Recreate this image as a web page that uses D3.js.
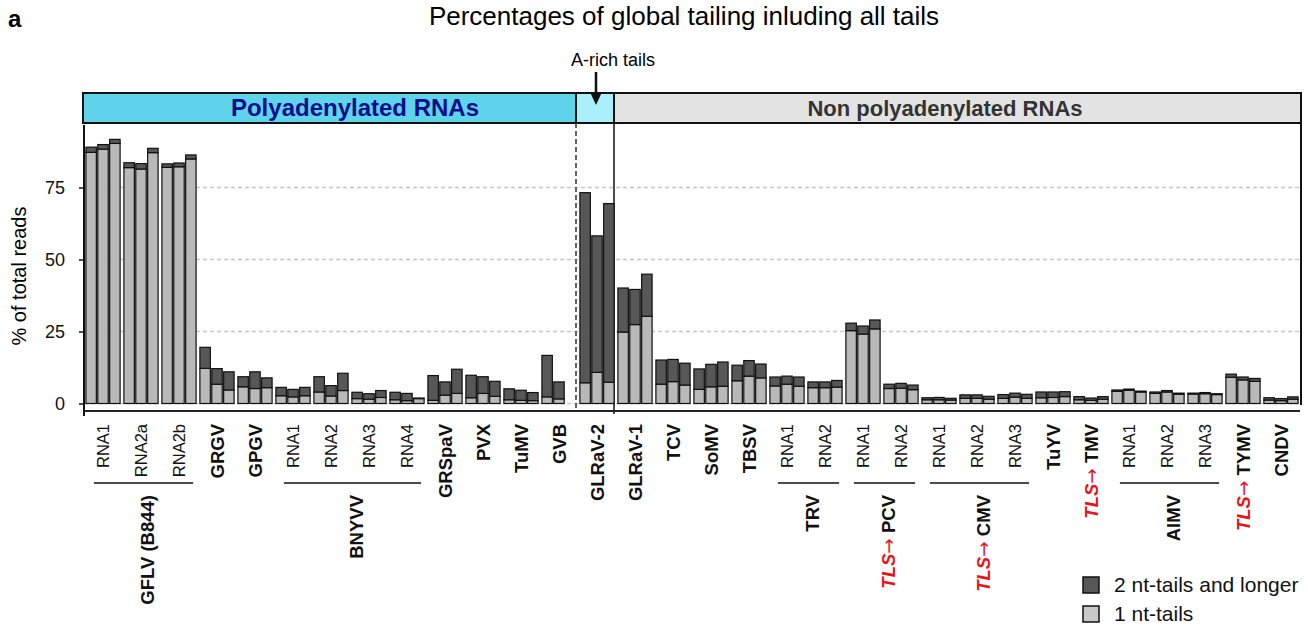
<!DOCTYPE html>
<html>
<head>
<meta charset="utf-8">
<script src="https://cdn.jsdelivr.net/npm/d3@7"></script>
<style>
body { margin: 0; background: #fff; }
text { font-family: "Liberation Sans", Arial, Helvetica, sans-serif; }
</style>
</head>
<body>
<script>
// one entry per group of three replicate bars
const groupLabels = ['RNA1','RNA2a','RNA2b','GRGV','GPGV','RNA1','RNA2','RNA3','RNA4','GRSpaV','PVX','TuMV','GVB',
  'GLRaV-2','GLRaV-1','TCV','SoMV','TBSV','RNA1','RNA2','RNA1','RNA2','RNA1','RNA2','RNA3','TuYV','TMV',
  'RNA1','RNA2','RNA3','TYMV','CNDV']
// segmented viruses : [name, first group, last group]
const brackets = [['GFLV (B844)',0,2],['BNYVV',5,8],['TRV',18,19],['PCV',20,21],['CMV',22,24],['AlMV',27,29]]
const tlsViruses = ['PCV','CMV','TMV','TYMV']

// % of reads with 1 nt tails
const oneNt = [[87.2,88.3,90.3],[81.9,81.4,87.1],[82.0,82.2,84.9],[12.2,6.7,4.7],[5.8,5.2,5.5],[2.7,2.3,2.7],
  [4.0,2.6,4.5],[1.7,1.5,2.1],[1.3,1.0,1.7],[1.1,2.9,3.5],[2.0,3.5,2.5],[1.3,1.1,1.0],[2.3,1.6,null],
  [7.2,10.8,7.4],[24.8,27.4,30.3],[6.7,7.6,6.4],[4.9,5.8,6.0],[7.9,9.5,8.9],[6.1,6.7,6.0],[5.5,5.5,5.7],
  [25.3,24.1,25.9],[5.2,5.3,4.8],[1.3,1.3,1.2],[1.8,1.8,1.5],[1.8,2.2,1.8],[2.0,2.1,2.4],[1.3,1.1,1.5],
  [4.2,4.6,4.0],[3.5,4.0,3.2],[3.3,3.4,3.1],[9.1,8.2,7.7],[1.2,1.0,1.5]]
// % of reads with tails of 2 nt and longer
const longer = [[1.8,1.6,1.4],[1.7,1.9,1.5],[1.2,1.3,1.4],[7.3,5.4,6.3],[3.5,5.8,3.4],[2.9,2.6,2.9],
  [5.3,3.6,6.0],[2.2,1.9,2.4],[2.6,2.5,0.2],[8.6,4.6,8.4],[7.8,5.8,5.2],[3.8,3.5,2.8],[14.4,5.9,null],
  [66.0,47.4,62.0],[15.3,12.2,14.6],[8.4,7.7,7.6],[7.1,7.8,8.4],[5.4,5.4,4.8],[3.1,2.8,3.2],[2.0,2.0,2.3],
  [2.6,2.8,3.1],[1.5,1.7,1.6],[0.7,0.8,0.6],[1.2,1.2,1.0],[1.3,1.4,1.4],[2.0,1.9,1.7],[1.1,0.8,0.9],
  [0.5,0.4,0.3],[0.5,0.5,0.4],[0.3,0.4,0.3],[1.1,1.0,1.0],[0.8,0.7,0.8]]
const yTicks = [0,25,50,75]

let w = 1308
let h = 625
let svg = d3.select('body').append('svg').attr('width', w).attr('height', h)

let x = d3.scaleBand().domain(d3.range(groupLabels.length)).range([84, 1300]).paddingInner(0.1).paddingOuter(0.05)
let xi = d3.scaleBand().domain([0,1,2]).range([0, x.bandwidth()]).paddingInner(0.12)
let y = d3.scaleLinear().domain([0, 96]).range([403.5, 127])

let dark = '#575757', light = '#b9b9b9'

// title bits
svg.append('text').attr('x', 8).attr('y', 27).attr('font-size', 24).attr('font-weight', 'bold').text('a')
svg.append('text').attr('x', 684).attr('y', 25).attr('text-anchor', 'middle').attr('font-size', 26)
  .text('Percentages of global tailing inluding all tails')

// grid
svg.append('g').selectAll('line').data(yTicks).enter().append('line')
  .attr('x1', 84).attr('x2', 1300).attr('y1', d => y(d)).attr('y2', d => y(d))
  .attr('stroke', '#c8c8c8').attr('stroke-width', 1.3).attr('stroke-dasharray', '4,3')

// header boxes
let x0 = 83, xA = 576, xN = 614, x1 = 1301
svg.append('rect').attr('x', x0).attr('y', 93).attr('width', xA - x0).attr('height', 30).attr('fill', '#5fd3ea')
svg.append('rect').attr('x', xA).attr('y', 93).attr('width', xN - xA).attr('height', 30).attr('fill', '#aaf0fb')
svg.append('rect').attr('x', xN).attr('y', 93).attr('width', x1 - xN).attr('height', 30).attr('fill', '#e3e3e3')
svg.append('rect').attr('x', x0).attr('y', 93).attr('width', x1 - x0).attr('height', 30)
  .attr('fill', 'none').attr('stroke', '#111').attr('stroke-width', 2)
svg.append('line').attr('x1', xA).attr('x2', xA).attr('y1', 93).attr('y2', 123).attr('stroke', '#111').attr('stroke-width', 2)
svg.append('line').attr('x1', xN).attr('x2', xN).attr('y1', 93).attr('y2', 123).attr('stroke', '#111').attr('stroke-width', 2)
svg.append('text').attr('x', 355).attr('y', 116).attr('text-anchor', 'middle').attr('font-size', 24)
  .attr('font-weight', 'bold').attr('fill', '#0c0c8c').text('Polyadenylated RNAs')
svg.append('text').attr('x', 945).attr('y', 116).attr('text-anchor', 'middle').attr('font-size', 22)
  .attr('font-weight', 'bold').attr('fill', '#333').text('Non polyadenylated RNAs')

// A-rich arrow
svg.append('text').attr('x', 613).attr('y', 66).attr('text-anchor', 'middle').attr('font-size', 18).text('A-rich tails')
svg.append('line').attr('x1', 596).attr('x2', 596).attr('y1', 72).attr('y2', 96).attr('stroke', '#111').attr('stroke-width', 2.5)
svg.append('path').attr('d', 'M590,92 L602,92 L596,105 Z').attr('fill', '#111')

// separators
svg.append('line').attr('x1', xA).attr('x2', xA).attr('y1', 123).attr('y2', 412)
  .attr('stroke', '#333').attr('stroke-width', 1.5).attr('stroke-dasharray', '5,3')
svg.append('line').attr('x1', xN).attr('x2', xN).attr('y1', 123).attr('y2', 414).attr('stroke', '#111').attr('stroke-width', 1.5)
svg.append('line').attr('x1', x1).attr('x2', x1).attr('y1', 123).attr('y2', 405).attr('stroke', '#111').attr('stroke-width', 2)

// bars
let bars = []
oneNt.forEach((g, i) => g.forEach((v, r) => {
  if (v != null) bars.push({ g: i, r: r, one: v, more: longer[i][r] })
}))
let bar = svg.append('g').selectAll('g').data(bars).enter().append('g')
  .attr('transform', d => 'translate(' + (x(d.g) + xi(d.r)) + ',0)')
bar.append('rect').attr('width', xi.bandwidth()).attr('y', d => y(d.one)).attr('height', d => y(0) - y(d.one))
  .attr('fill', light).attr('stroke', '#111').attr('stroke-width', 1.2)
bar.append('rect').attr('width', xi.bandwidth()).attr('y', d => y(d.one + d.more)).attr('height', d => y(d.one) - y(d.one + d.more))
  .attr('fill', dark).attr('stroke', '#111').attr('stroke-width', 1.2)

// axes
let yAxis = d3.axisLeft(y).tickValues(yTicks).tickSize(5).tickPadding(14)
let ga = svg.append('g').attr('transform', 'translate(84,0)').call(yAxis)
ga.select('.domain').remove()
ga.selectAll('.tick line').attr('stroke', '#111').attr('stroke-width', 1.5)
ga.selectAll('.tick text').attr('font-size', 18).attr('fill', '#111').attr('font-family', '"Liberation Sans", Arial, sans-serif')
svg.append('line').attr('x1', 84).attr('x2', 84).attr('y1', 125).attr('y2', 416).attr('stroke', '#111').attr('stroke-width', 2)
svg.append('line').attr('x1', 84).attr('x2', 1300).attr('y1', 411).attr('y2', 411).attr('stroke', '#222').attr('stroke-width', 2)

svg.append('text').attr('transform', 'translate(26,276) rotate(-90)').attr('text-anchor', 'middle')
  .attr('font-size', 20).text('% of total reads')

// x labels
let inBracket = i => brackets.some(b => i >= b[1] && i <= b[2])
let cx = i => x(i) + x.bandwidth() / 2

function tlsLabel(sel, name) {
  if (tlsViruses.includes(name)) {
    sel.append('tspan').attr('fill', '#e8141c').attr('font-style', 'italic').text('TLS')
    sel.append('tspan').attr('fill', '#e8141c').attr('font-family', '"DejaVu Sans", sans-serif')
      .attr('font-weight', 'normal').text('\u2192')
    sel.append('tspan').text(' ')
  }
  sel.append('tspan').text(name)
}

groupLabels.forEach((lab, i) => {
  let t = svg.append('text').attr('transform', 'translate(' + cx(i) + ',424) rotate(-90)')
    .attr('text-anchor', 'end').attr('dy', '0.36em').attr('fill', '#111')
  if (inBracket(i)) {
    t.attr('font-size', 16.5).text(lab)
  } else {
    t.attr('font-size', 18.5).attr('font-weight', 'bold')
    tlsLabel(t, lab)
  }
})

brackets.forEach(b => {
  let a = x(b[1]) + 8, e = x(b[2]) + x.bandwidth() - 3
  svg.append('line').attr('x1', a).attr('x2', e).attr('y1', 483).attr('y2', 483).attr('stroke', '#111').attr('stroke-width', 1.5)
  let t = svg.append('text').attr('transform', 'translate(' + ((a + e) / 2 + 4) + ',495) rotate(-90)')
    .attr('text-anchor', 'end').attr('dy', '0.36em').attr('font-size', 18.5).attr('font-weight', 'bold').attr('fill', '#111')
  tlsLabel(t, b[0])
})

// legend
let leg = svg.append('g').attr('transform', 'translate(1083,577)')
let items = [['2 nt-tails and longer', dark], ['1 nt-tails', '#c8c8c8']]
items.forEach((it, i) => {
  leg.append('rect').attr('x', 0).attr('y', i * 29).attr('width', 16).attr('height', 16)
    .attr('fill', it[1]).attr('stroke', '#111').attr('stroke-width', 1.5)
  leg.append('text').attr('x', 31).attr('y', i * 29 + 15).attr('font-size', 21).attr('fill', '#111').text(it[0])
})
</script>
</body>
</html>
